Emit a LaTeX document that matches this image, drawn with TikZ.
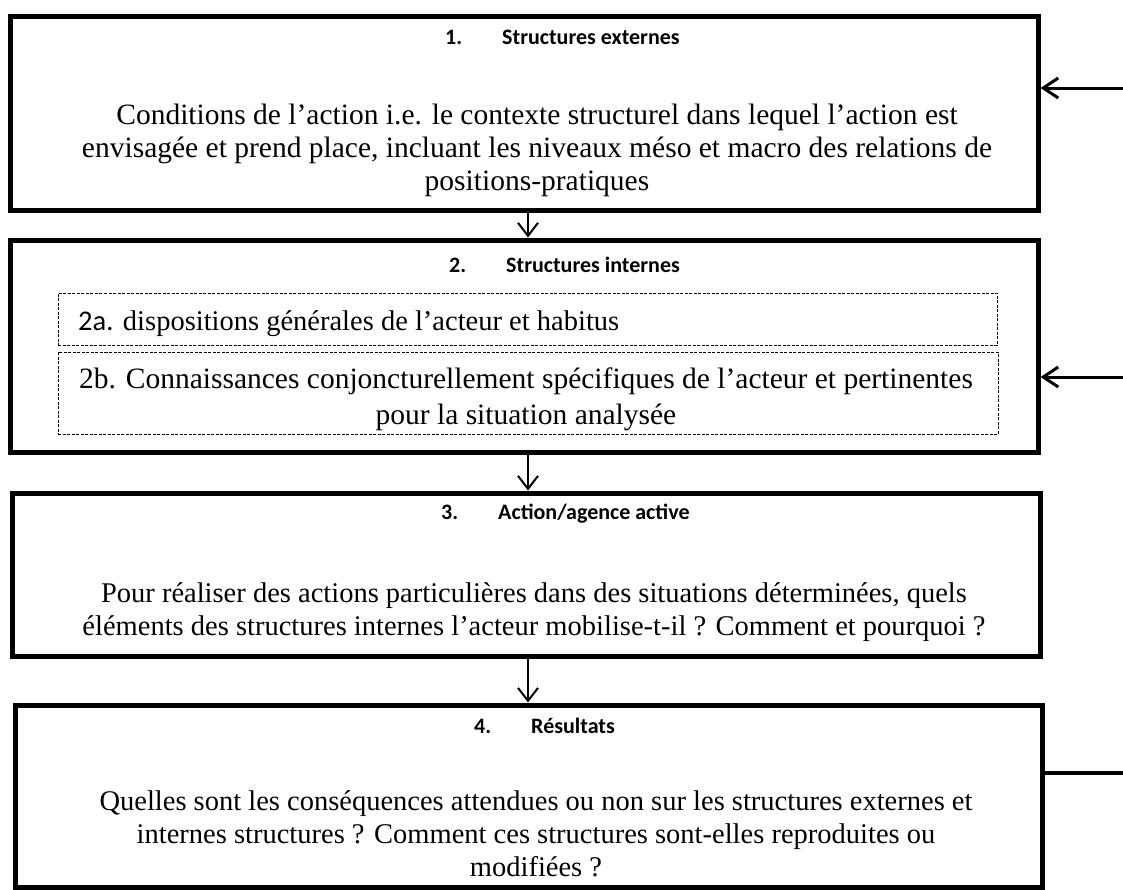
\documentclass[tikz,border=0pt]{standalone}
\usepackage{fontspec}
\setmainfont{Liberation Serif}
\newfontfamily\headfont{Carlito}
\usetikzlibrary{arrows.meta}

\begin{document}
\begin{tikzpicture}[x=1pt, y=-1pt,
    box/.style={draw, line width=5pt, inner sep=0pt},
    subbox/.style={draw, line width=0.8pt, dash pattern=on 3pt off 1.5pt, inner sep=0pt},
    head/.style={font=\headfont\bfseries\fontsize{22}{26}\selectfont, inner sep=0pt, anchor=west},
    body/.style={align=center, font=\fontsize{29.5}{33}\selectfont, inner sep=0pt},
    flow/.style={line width=2pt, -{Straight Barb[length=13pt, width=20pt]}},
    feed/.style={line width=3pt, -{Straight Barb[length=15pt, width=20pt]}}]
    \useasboundingbox (0,0) rectangle (1123,889);
    % the four boxes
    \node[box, minimum width=1028pt, minimum height=194pt] (box1) at (524,113) {};
    \node[box, minimum width=1028pt, minimum height=212pt] (box2) at (524,346) {};
    \node[subbox, minimum width=939pt, minimum height=52pt] (sub2a) at (527.5,319) {};
    \node[subbox, minimum width=940pt, minimum height=82pt] (sub2b) at (528,393) {};
    \node[box, minimum width=1028pt, minimum height=163pt] (box3) at (526,574.5) {};
    \node[box, minimum width=1027pt, minimum height=182pt] (box4) at (528.5,796) {};
    % texts
    \node[head] (h1) at (445,37) {1.\hspace{40pt}Structures externes};
    \node[body] (t1) at (537,150) {Conditions de l’action i.e. le contexte structurel dans lequel l’action est\\
        envisagée et prend place, incluant les niveaux méso et macro des relations de\\
        positions-pratiques};
    \node[head] (h2) at (449,265) {2.\hspace{40pt}Structures internes};
    \node[body, anchor=base west, font=\fontsize{28.5}{33}\selectfont] (t2a) at (78,330) {{\headfont 2a.} dispositions générales de l’acteur et habitus};
    \node[body, font=\fontsize{29.5}{36}\selectfont] (t2b) at (526,399) {2b. Connaissances conjoncturellement spécifiques de l’acteur et pertinentes\\
        pour la situation analysée};
    \node[head] (h3) at (441,514) {3.\hspace{40pt}Action/agence active};
    \node[body, font=\fontsize{28.5}{33}\selectfont] (t3) at (534,612) {Pour réaliser des actions particulières dans des situations déterminées, quels\\
        éléments des structures internes l’acteur mobilise-t-il ? Comment et pourquoi ?};
    \node[head] (h4) at (474,726) {4.\hspace{40pt}Résultats};
    \node[body, font=\fontsize{28.5}{33}\selectfont] (t4) at (536,834) {Quelles sont les conséquences attendues ou non sur les structures externes et\\
        internes structures ? Comment ces structures sont-elles reproduites ou\\
        modifiées ?};
    % connectors
    \draw[flow] ([xshift=4pt]box1.south) -- ([xshift=4pt]box1.south |- box2.north);
    \draw[flow] ([xshift=4pt]box2.south) -- ([xshift=4pt]box2.south |- box3.north);
    \draw[flow] ([xshift=2pt]box3.south) -- ([xshift=2pt]box3.south |- box4.north);
    \coordinate (in1) at (1123,88);
    \coordinate (in2) at (1123,377);
    \coordinate (out4) at (1123,773);
    \draw[feed] (in1) -- (in1 -| box1.east);
    \draw[feed] (in2) -- (in2 -| box2.east);
    \draw[line width=3.5pt] (box4.east |- out4) -- (out4);
\end{tikzpicture}
\end{document}
